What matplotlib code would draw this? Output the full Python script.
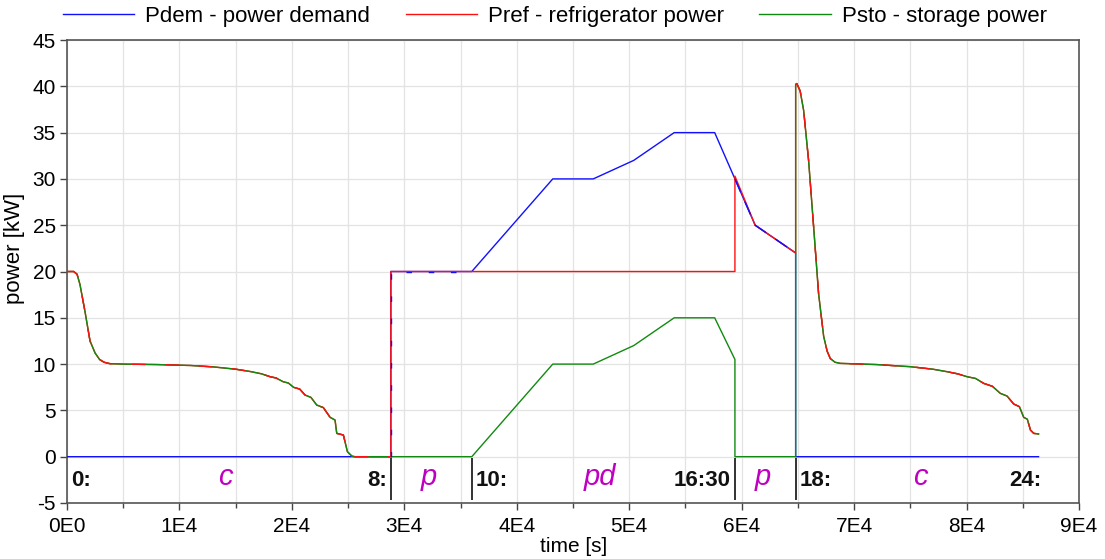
import numpy as np
import matplotlib
matplotlib.use("Agg")
import matplotlib.pyplot as plt
from matplotlib.ticker import FixedLocator, MultipleLocator

plt.rcParams['font.family'] = ['Liberation Sans', 'DejaVu Sans']

# ---------------- data ----------------
# power demand [kW]
t_dem = [0, 28800, 28800, 36000, 43200, 46800, 50400, 54000, 57600, 61200, 64800, 64800, 86400]
p_dem = [0, 0, 20, 20, 30, 30, 32, 35, 35, 25, 22, 0, 0]

# charging curve (night / morning) and evening charging curve
t_morning = [0, 600, 900, 1157, 1600, 2050, 2500, 2900, 3300, 3800, 5000, 8000, 11000, 13000,
             15000, 16300, 17300, 18060, 18600, 19220, 19700, 20140, 20700, 21170, 21700, 22210,
             22800, 23400, 23840, 23990, 24580, 24940, 25330, 25600, 28800]
p_morning = [20.0, 20.0, 19.7, 18.6, 15.7, 12.5, 11.2, 10.5, 10.2, 10.05, 10.0, 9.95, 9.85, 9.7,
             9.45, 9.2, 8.95, 8.64, 8.5, 8.1, 7.95, 7.5, 7.3, 6.66, 6.4, 5.58,
             5.3, 4.25, 3.96, 2.52, 2.34, 0.54, 0.07, 0.0, 0.0]
t_evening = [64900, 65200, 65510, 65950, 66400, 66840, 67290, 67600, 67880, 68300, 68770, 72000,
             75000, 77000, 78260, 79200, 80040, 80800, 81520, 82300, 83000, 83600, 84190, 84700,
             85080, 85400, 85680, 85970, 86400]
p_evening = [40.3, 39.5, 37.4, 32.0, 24.8, 17.6, 13.0, 11.4, 10.6, 10.2, 10.08, 9.95,
             9.72, 9.45, 9.18, 8.95, 8.64, 8.45, 7.92, 7.6, 6.84, 6.55, 5.69, 5.4,
             4.25, 4.05, 2.88, 2.52, 2.45]

# refrigerator power [kW]
t_ref = t_morning + [28800, 59400, 59400, 61200, 64800, 64800] + t_evening
p_ref = p_morning + [20, 20, 30.3, 25, 22, 40.2] + p_evening

# storage power [kW]
t_sto = t_morning + [36000, 43200, 46800, 50400, 54000, 57600, 59400, 59400, 64800, 64800] + t_evening
p_sto = p_morning + [0, 10, 10, 12, 15, 15, 10.5, 0, 0, 40.2] + p_evening

series_labels = ["Pdem - power demand", "Pref - refrigerator power", "Psto - storage power"]

x_ticks = [0, 10000, 20000, 30000, 40000, 50000, 60000, 70000, 80000, 90000]
x_ticklabels = ["0E0", "1E4", "2E4", "3E4", "4E4", "5E4", "6E4", "7E4", "8E4", "9E4"]
y_ticks = [-5, 0, 5, 10, 15, 20, 25, 30, 35, 40, 45]

phase_bounds = [28800, 36000, 59400, 64800]
clock_pos = [0, 28800, 36000, 59400, 64800, 86400]
clock_labels = ["0:", "8:", "10:", "16:30", "18:", "24:"]
mode_pos = [14060, 32200, 47400, 61900, 75900]
mode_labels = ["c", "p", "pd", "p", "c"]

# ---------------- plot ----------------
BLUE, RED, GREEN = '#1010ff', '#ff1010', '#108a10'
fig = plt.figure(figsize=(11.05, 5.59), dpi=100)
ax = fig.add_axes([0.0606, 0.1002, 0.9159, 0.8282])

lw = 1.0
ax.plot(t_dem, p_dem, color=BLUE, lw=lw, label=series_labels[0], zorder=3)
ax.plot(t_ref, p_ref, color=RED, lw=lw, label=series_labels[1], zorder=4)
ax.plot(t_sto, p_sto, color=GREEN, lw=lw, label=series_labels[2], zorder=5)

# overlapping parts drawn dashed so both colours show (as in the original)
tr = np.array(t_ref, float)
pr = np.array(p_ref, float)
n_m = len(t_morning)
ov_ref = pr.copy()
ov_ref[n_m:len(tr) - len(t_evening) - 1] = np.nan
ax.plot(tr, ov_ref, color=RED, lw=lw, dashes=(10, 14), zorder=6)
td = np.array(t_dem, float)
pdm = np.array(p_dem, float)
mask = (td >= 59400) & (td <= 64800) & (pdm > 0)
ax.plot(np.r_[59400, td[mask]], np.r_[np.interp(59400, td[6:10], pdm[6:10]), pdm[mask]],
        color=BLUE, lw=lw, dashes=(10, 8), zorder=6)
ax.plot(td[1:4], pdm[1:4], color=BLUE, lw=lw, dashes=(4, 12), zorder=6)

ax.set_xlim(0, 90000)
ax.set_ylim(-5, 45)
ax.xaxis.set_major_locator(FixedLocator(x_ticks))
ax.set_xticklabels(x_ticklabels)
ax.xaxis.set_minor_locator(MultipleLocator(5000))
ax.yaxis.set_major_locator(FixedLocator(y_ticks))
ax.set_yticklabels([str(v) for v in y_ticks])

ax.grid(True, which='major', color='#e3e3e3', lw=0.9)
ax.grid(True, which='minor', axis='x', color='#e3e3e3', lw=0.9)
ax.set_axisbelow(True)

ax.tick_params(axis='both', which='major', direction='out', length=5, width=1.0,
               labelsize=15, color='#444444', pad=3)
ax.tick_params(axis='x', which='major', pad=5)
ax.tick_params(axis='x', which='minor', direction='out', length=3.4, width=1.0, color='#444444')
for s in ax.spines.values():
    s.set_color('#555555')
    s.set_linewidth(1.2)

ax.set_xlabel("time [s]", fontsize=15)
ax.xaxis.set_label_coords(0.501, -0.073)
ax.set_ylabel("power [kW]", fontsize=16)
ax.yaxis.set_label_coords(-0.0415, 0.55)

# phase annotation
ax.vlines(phase_bounds, -4.7, -0.15, color='#222222', lw=1.3, zorder=7)
ha_list = ['left', 'right', 'left', 'right', 'left', 'right']
offs = [3, -3, 3, -3, 3, 2]
for x, s, ha, o in zip(clock_pos, clock_labels, ha_list, offs):
    ax.annotate(s, (x, -3.2), xytext=(o, 0), textcoords='offset points', ha=ha, va='baseline',
                fontsize=16, fontweight='bold', color='#111111')
for x, s in zip(mode_pos, mode_labels):
    ax.text(x, -3.1, s, ha='center', va='baseline', fontsize=21, style='italic', color='#c000c0')

fig.legend(loc='center left', bbox_to_anchor=(0.057, 0.971), ncol=3, frameon=False,
           fontsize=16, handlelength=3.2, handletextpad=0.5, columnspacing=1.6,
           borderpad=0, borderaxespad=0)

fig.savefig("out.png", dpi=100)
